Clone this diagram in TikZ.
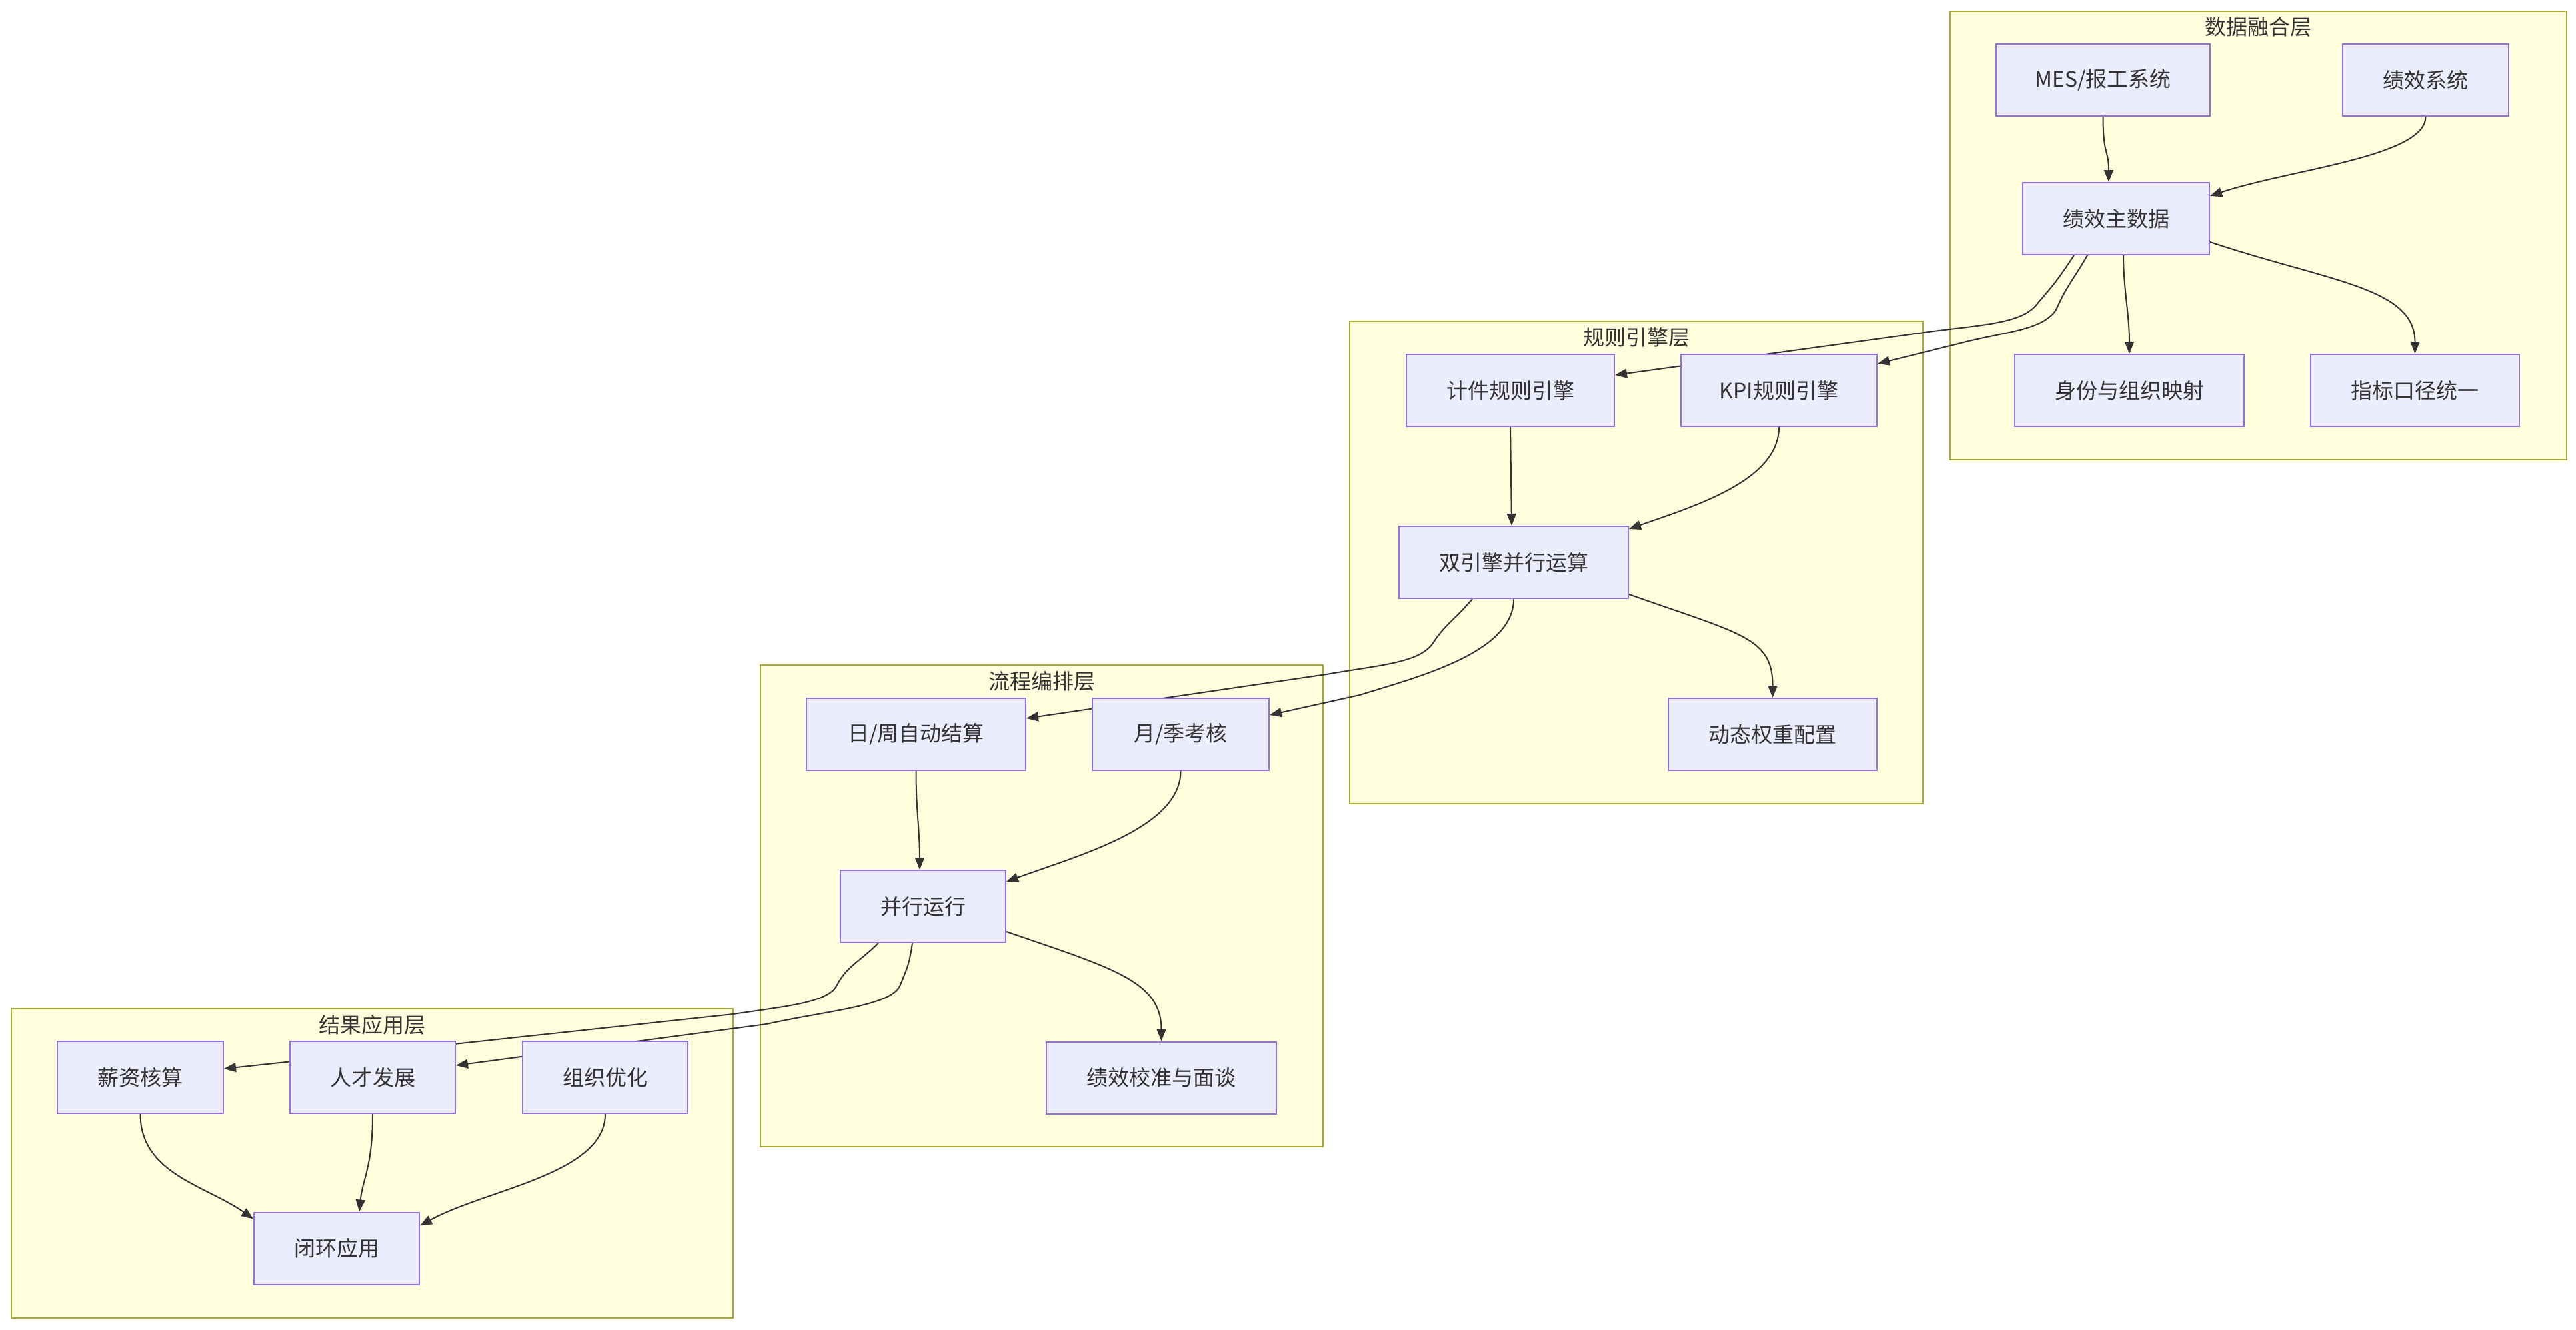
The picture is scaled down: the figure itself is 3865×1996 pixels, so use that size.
\documentclass[tikz,border=0pt]{standalone}
\usepackage{fontspec}
\setmainfont{Noto Sans CJK SC}
\usetikzlibrary{arrows.meta,calc}
\definecolor{clfill}{HTML}{FFFFDE}
\definecolor{clline}{HTML}{AAAA33}
\definecolor{ndfill}{HTML}{ECECFF}
\definecolor{ndline}{HTML}{9370DB}
\definecolor{txt}{HTML}{333333}
\pgfdeclarelayer{bg}
\pgfdeclarelayer{lines}
\pgfsetlayers{bg,lines,main}
\begin{document}
\begin{tikzpicture}[x=0.5pt,y=-0.5pt,
  box/.style={draw=ndline,fill=ndfill,line width=1pt,minimum height=54pt,inner sep=0pt,text=txt,font=\fontsize{16pt}{19pt}\selectfont},
  cluster/.style={draw=clline,fill=clfill,line width=1pt},
  ctitle/.style={text=txt,inner sep=0pt,font=\fontsize{16pt}{19pt}\selectfont},
  conn/.style={draw=txt,line width=1pt,-{Triangle[length=9pt,width=7pt]}}]
\useasboundingbox (0,0) rectangle (3865,1996);

% clusters
\begin{pgfonlayer}{bg}
\draw[cluster] (2926,17) rectangle (3851,690);
\draw[cluster] (2025,482) rectangle (2885,1206);
\draw[cluster] (1141,998) rectangle (1985,1721);
\draw[cluster] (17,1514) rectangle (1100,1978);
\end{pgfonlayer}
\node[ctitle] (t1) at (3388,40) {数据融合层};
\node[ctitle] (t2) at (2455,506) {规则引擎层};
\node[ctitle] (t3) at (1563,1022) {流程编排层};
\node[ctitle] (t4) at (558,1538) {结果应用层};

% nodes
\node[box,minimum width=160.5pt] (mes) at (3155.5,120) {MES/报工系统};
\node[box,minimum width=124.5pt] (jxxt) at (3639.5,120) {绩效系统};
\node[box,minimum width=140pt] (zhu) at (3175,328) {绩效主数据};
\node[box,minimum width=172pt] (sf) at (3195,586) {身份与组织映射};
\node[box,minimum width=156.5pt] (zb) at (3623.5,586) {指标口径统一};

\node[box,minimum width=156pt] (jj) at (2266,586) {计件规则引擎};
\node[box,minimum width=147pt] (kpi) at (2669,586) {KPI规则引擎};
\node[box,minimum width=172pt] (sy) at (2271,844) {双引擎并行运算};
\node[box,minimum width=156.5pt] (dt) at (2659.5,1102) {动态权重配置};

\node[box,minimum width=164.5pt] (rz) at (1374.5,1102) {日/周自动结算};
\node[box,minimum width=132.5pt] (yj) at (1771.5,1102) {月/季考核};
\node[box,minimum width=124pt] (bx) at (1385,1360) {并行运行};
\node[box,minimum width=172.5pt] (jz) at (1742.5,1617.5) {绩效校准与面谈};

\node[box,minimum width=124.5pt] (xz) at (210.5,1617) {薪资核算};
\node[box,minimum width=124pt] (rc) at (559,1617) {人才发展};
\node[box,minimum width=124pt] (zz) at (908,1617) {组织优化};
\node[box,minimum width=124pt] (bh) at (505,1873.5) {闭环应用};

% connectors
\begin{pgfonlayer}{lines}
\draw[conn] (mes.south) .. controls +(0,60) and +(0,-50) .. ($(zhu.north)+(-11,0)$);
\draw[conn] (jxxt.south) .. controls +(0,60) and +(120,-40) .. ($(zhu.north east)+(0,21)$);
\draw[conn] ($(zhu.south)+(11,0)$) .. controls +(0,50) and +(0,-60) .. (sf.north);
\draw[conn] ($(zhu.south east)+(0,-20)$) .. controls +(180,60) and +(0,-100) .. (zb.north);
\draw[conn] ($(zhu.south)+(-63,0)$) .. controls +(-30,45) and +(25,-30) .. (3055,458)
   .. controls +(-25,30) and +(80,-12) .. (2880,500) -- ($(jj.east)+(0,-23)$);
\draw[conn] ($(zhu.south)+(-43,0)$) .. controls +(-20,35) and +(15,-35) .. (3085,465)
   .. controls +(-20,30) and +(60,-15) .. (2950,513) -- ($(kpi.north east)+(0,15)$);

\draw[conn] (jj.south) -- ($(sy.north)+(-3,0)$);
\draw[conn] (kpi.south) .. controls +(0,80) and +(100,-35) .. ($(sy.north east)+(0,5)$);
\draw[conn] ($(sy.south east)+(0,-7)$) .. controls +(170,60) and +(0,-90) .. (dt.north);
\draw[conn] ($(sy.south)+(-62,0)$) .. controls +(-30,35) and +(20,-30) .. (2150,965)
   .. controls +(-20,30) and +(80,-14) .. (1990,1012) -- ($(rz.east)+(0,-24)$);
\draw[conn] (sy.south) .. controls +(0,80) and +(90,-28) .. (2040,1043) -- ($(yj.east)+(0,-29)$);

\draw[conn] (rz.south) .. controls +(0,60) and +(0,-60) .. ($(bx.north)+(-5,0)$);
\draw[conn] (yj.south) .. controls +(0,85) and +(110,-40) .. ($(bx.north east)+(0,18)$);
\draw[conn] ($(bx.south east)+(0,-17)$) .. controls +(160,55) and +(0,-90) .. (jz.north);
\draw[conn] ($(bx.south)+(-67,0)$) .. controls +(-30,30) and +(15,-30) .. (1255,1480)
   .. controls +(-15,25) and +(80,-12) .. (1100,1522) -- ($(xz.east)+(0,-13)$);
\draw[conn] ($(bx.south)+(-16,0)$) .. controls +(-5,35) and +(10,-25) .. (1350,1480)
   .. controls +(-15,30) and +(90,-20) .. (1150,1537) -- ($(rc.east)+(0,-18)$);

\draw[conn] (xz.south) .. controls +(0,90) and +(-70,-50) .. ($(bh.north west)+(0,11)$);
\draw[conn] (rc.south) .. controls +(0,80) and +(5,-50) .. ($(bh.north)+(34,0)$);
\draw[conn] (zz.south) .. controls +(0,90) and +(100,-55) .. ($(bh.north east)+(0,21)$);
\end{pgfonlayer}
\end{tikzpicture}
\end{document}
